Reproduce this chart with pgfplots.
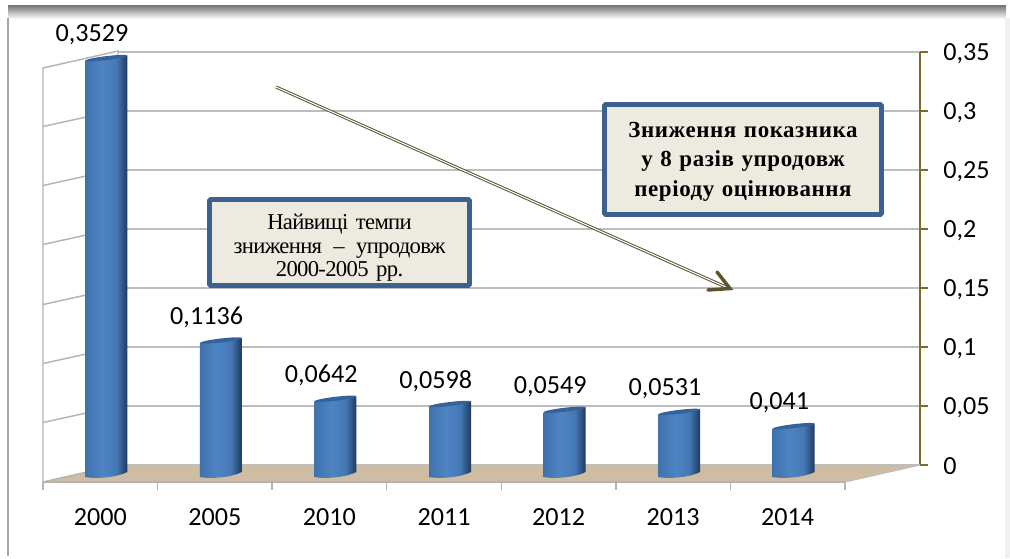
\documentclass[border=0pt]{standalone}
\usepackage{pgfplots}
\pgfplotsset{compat=1.18}
\usepackage{fontspec}
\setmainfont{Carlito}
\newfontfamily\serifcyr[LetterSpace=-3]{Liberation Serif}
\newfontfamily\serifsp[LetterSpace=2.5]{Liberation Serif}
\definecolor{gridc}{HTML}{BDBDBD}
\definecolor{sidec}{HTML}{B4B4B4}
\definecolor{floorc}{HTML}{CEBDA3}
\definecolor{axisc}{HTML}{7E6A2B}
\definecolor{boxb}{HTML}{3C6090}
\definecolor{boxf}{HTML}{EDEBE0}
\definecolor{arrowc}{HTML}{5A5430}
\definecolor{cylA}{HTML}{3F72AD}
\definecolor{cylB}{HTML}{4F84C4}
\definecolor{cylC}{HTML}{4578B4}
\definecolor{cylD}{HTML}{1E3A5E}
\definecolor{cylT}{HTML}{34639C}
\pgfdeclarehorizontalshading{cyl}{100bp}{color(0bp)=(cylA); color(25bp)=(cylA); color(45bp)=(cylB); color(62bp)=(cylC); color(75bp)=(cylD); color(100bp)=(cylD)}
\pgfplotstableread{
i v
0 0.3529
1 0.1136
2 0.0642
3 0.0598
4 0.0549
5 0.0531
6 0.041
}\ratedata
\begin{document}
\begin{tikzpicture}[x=0.75pt,y=-0.75pt]
% canvas and outer frame
\fill[white] (0,0) rectangle (1010,558);
\shade[top color=black!55,bottom color=white] (8,5) rectangle (1006,19);
\draw[black!35,line width=1.1pt] (8,18) -- (8,556);
\fill[black!6] (1005,18) rectangle (1010,558);
\begin{axis}[
  at={(88.5pt,-348.75pt)},anchor=south west,
  scale only axis,width=601.5pt,height=309.75pt,
  xmin=-0.5,xmax=6.5,ymin=0,ymax=0.35,
  axis x line=none,axis y line*=right,
  ytick={0,0.05,0.1,0.15,0.2,0.25,0.3,0.35},
  yticklabels={0,{0,05},{0,1},{0,15},{0,2},{0,25},{0,3},{0,35}},
  yticklabel style={font=\fontsize{19.6}{22}\selectfont,anchor=west,xshift=8pt,yshift=-1pt},
  ymajorgrids,
  grid style={gridc,line width=1.1pt},
  y axis line style={axisc,line width=1.8pt,-},
  ytick style={axisc,line width=1.2pt},
  tick align=outside,major tick length=6pt,
  clip=false,
]
\end{axis}
% floor and side wall (decoration)
\fill[floorc] (43,482) -- (118,465) -- (920,465) -- (845,482) -- cycle;
\draw[gridc,line width=1.1pt] (118,465) -- (920,465);
\draw[gridc,line width=0.8pt] (845,482) -- (920,465);
\draw[sidec,line width=1.1pt] (43,482) -- (43,68) -- (118,51) -- (118,465) -- cycle;
\foreach \yy in {110,169,228,288,347,406}{\draw[sidec,line width=1.1pt] (43,\yy+16.5) -- (118,\yy);}
\begin{axis}[
  at={(32.25pt,-361.5pt)},anchor=south west,
  scale only axis,width=601.5pt,height=309.75pt,
  xmin=-0.5,xmax=6.5,ymin=0,ymax=0.35,
  axis y line=none,axis x line*=bottom,
  xtick={0,1,2,3,4,5,6},
  xticklabels={2000,2005,2010,2011,2012,2013,2014},
  minor xtick={-0.5,0.5,1.5,2.5,3.5,4.5,5.5,6.5},
  major tick length=0pt,minor tick length=6pt,
  tick align=outside,
  minor tick style={sidec,line width=1.1pt},
  x axis line style={sidec,line width=1.1pt,-},
  xticklabel style={font=\fontsize{19.6}{22}\selectfont,yshift=-16pt},
  clip=false,
  /pgf/number format/.cd,use comma,fixed,precision=4,assume math mode=true,
]
\addplot[
  only marks,mark=o,mark size=0.01pt,draw opacity=0,
  clip marker paths=false,
  scatter,scatter src=y,
  visualization depends on={y\as\val},
  scatter/@pre marker code/.append code={
    \pgfmathsetmacro\h{\val*885}
    \pgfmathsetmacro\ta{5.6-1.9}
    \pgfmathsetmacro\tb{5.6+1.9}
    \pgfmathsetmacro\ba{5.6-\h+1.9}
    \pgfmathsetmacro\bb{5.6-\h-1.9}
    \pgfmathsetmacro\ca{5.6-\h-2.2}
    \pgfmathsetmacro\cb{5.6-\h-3.4}
    \begin{scope}[x=1pt,y=1pt]
      \shade[shading=cyl] (-11.25,\ta) -- (20.25,\tb) -- (20.25,\ba)
        .. controls (12.5,\ca) and (-3.5,\cb) .. (-11.25,\bb) -- cycle;
      \fill[cylT] (4.5,5.6) ellipse[x radius=15.9,y radius=1.5,rotate=6.8];
    \end{scope}
  },
] table[x=i,y=v] {\ratedata};
\addplot[
  only marks,mark=none,
  nodes near coords,
  nodes near coords style={font=\fontsize{19.6}{22}\selectfont,anchor=center,xshift=-6.2pt,yshift=23pt},
] table[x=i,y=v] {\ratedata};
\end{axis}
% text boxes and arrow
\draw[arrowc,line width=0.75pt,double=white,double distance=0.8pt] (276,87) -- (727,287.5);
\draw[arrowc,line width=2.6pt,line cap=round,line join=miter] (717,272) -- (730,288.5) -- (708,290);
\draw[boxb,line width=3.6pt,fill=boxf,rounded corners=1pt] (209.5,199.5) rectangle (469.5,285.5);
\node[align=center,inner sep=0pt,text width=250pt,font=\serifcyr\fontsize{17}{17.6}\selectfont] at (339.5,248) {Найвищі темпи\\зниження\, –\, упродовж\\2000-2005 рр.};
\draw[boxb,line width=3.6pt,fill=boxf,rounded corners=1pt] (604.5,104.5) rectangle (881.5,214.5);
\node[align=center,inner sep=0pt,text width=250pt,font=\serifsp\bfseries\fontsize{17.2}{22.2}\selectfont] at (743,161.5) {Зниження показника\\у 8 разів упродовж\\періоду оцінювання};
\end{tikzpicture}
\end{document}
